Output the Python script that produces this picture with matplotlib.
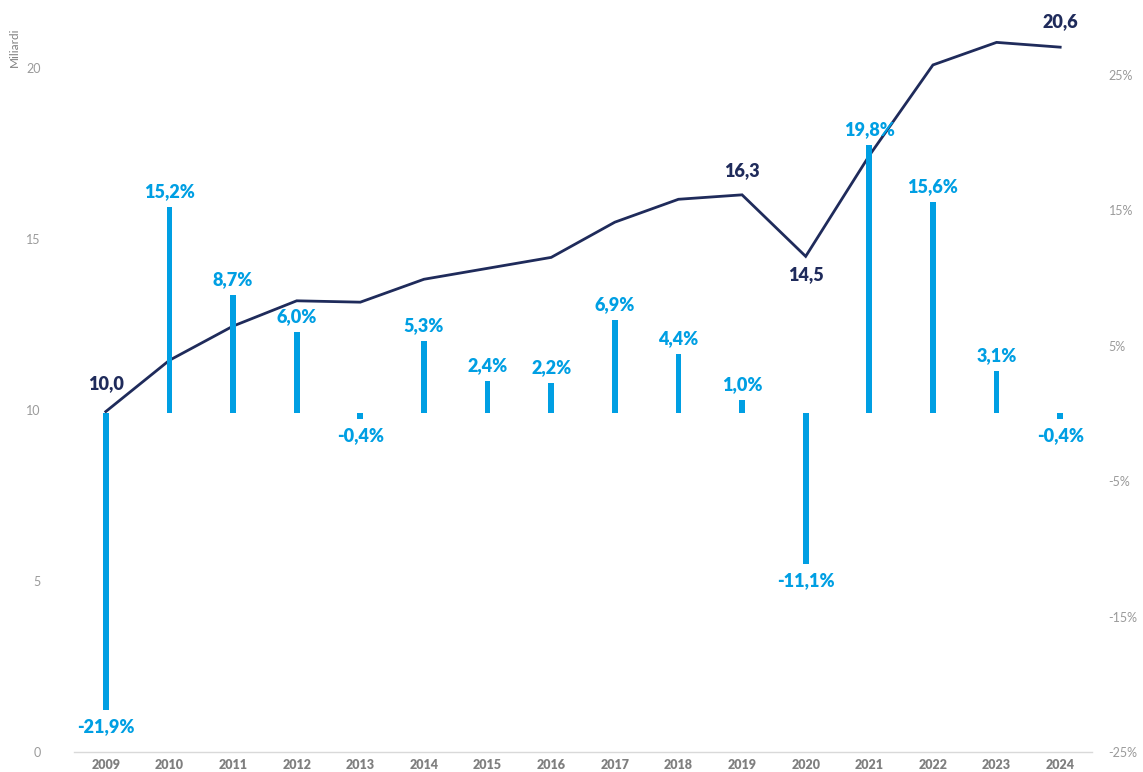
import matplotlib
matplotlib.use("Agg")
import matplotlib.pyplot as plt
import numpy as np

# dati
anni = ["2009", "2010", "2011", "2012", "2013", "2014", "2015", "2016",
        "2017", "2018", "2019", "2020", "2021", "2022", "2023", "2024"]
miliardi = [9.96, 11.46, 12.46, 13.2, 13.16, 13.83, 14.15, 14.47,
            15.5, 16.17, 16.3, 14.5, 17.45, 20.1, 20.76, 20.62]
variazione = [-21.9, 15.2, 8.7, 6.0, -0.4, 5.3, 2.4, 2.2,
              6.9, 4.4, 1.0, -11.1, 19.8, 15.6, 3.1, -0.4]
# etichette della linea: (indice, scostamento verticale in punti)
etichette_linea = [(0, 14), (10, 11), (11, -7), (15, 12)]

BLU = "#1f2b5b"
AZZURRO = "#009fe3"
GRIGIO = "#9a9a9a"
FONT = "Lato"

plt.rcParams["font.family"] = [FONT, "DejaVu Sans"]

fig = plt.figure(figsize=(11.43, 7.72), dpi=100)
ax = fig.add_axes([74 / 1143, 20 / 772, (1092 - 74) / 1143, 752 / 772])
ax2 = ax.twinx()

x = np.arange(len(anni))

# linea (asse sinistro)
ax.plot(x, miliardi, color=BLU, lw=2.0, zorder=3, solid_joinstyle="miter")
ax.set_ylim(0, 22)
ax.set_xlim(-0.5, len(anni) - 0.5)
ax.set_yticks([0, 5, 10, 15, 20])
ax.tick_params(axis="y", length=0, pad=24, labelsize=9, labelcolor=GRIGIO)
ax.tick_params(axis="x", length=0, pad=5, labelsize=9, labelcolor="#7f7f7f")
ax.set_xticks(x)
ax.set_xticklabels(anni, fontweight="heavy")
for s in ["top", "right", "left"]:
    ax.spines[s].set_visible(False)
ax.spines["bottom"].set_color("#d9d9d9")
ax.spines["bottom"].set_linewidth(1.0)

for i, off in etichette_linea:
    testo = f"{miliardi[i]:.1f}".replace(".", ",")
    ax.annotate(testo, (x[i], miliardi[i]), xytext=(0, off),
                textcoords="offset points", ha="center",
                va="bottom" if off > 0 else "top",
                fontsize=13, fontweight="heavy", color=BLU)

# barre (asse destro)
ax2.bar(x, variazione, width=0.09, color=AZZURRO, zorder=2)
ax2.set_ylim(-25, 30.5)
ax2.set_yticks([-25, -15, -5, 5, 15, 25])
ax2.set_yticklabels([f"{v}%" for v in [-25, -15, -5, 5, 15, 25]])
ax2.tick_params(axis="y", length=0, pad=12, labelsize=9, labelcolor=GRIGIO)
for s in ["top", "right", "left", "bottom"]:
    ax2.spines[s].set_visible(False)

for xi, v in zip(x, variazione):
    testo = f"{v:.1f}%".replace(".", ",")
    if v >= 0:
        ax2.annotate(testo, (xi, v), xytext=(0, 5), textcoords="offset points",
                     ha="center", va="bottom", fontsize=13, fontweight="heavy",
                     color=AZZURRO)
    else:
        ax2.annotate(testo, (xi, v), xytext=(0, -6), textcoords="offset points",
                     ha="center", va="top", fontsize=13, fontweight="heavy",
                     color=AZZURRO)

fig.text(14 / 1143, 1 - 47 / 772, "Miliardi", rotation=90, ha="center",
         va="center", fontsize=8.5, color="#808080")

fig.savefig("out.png", dpi=100)
